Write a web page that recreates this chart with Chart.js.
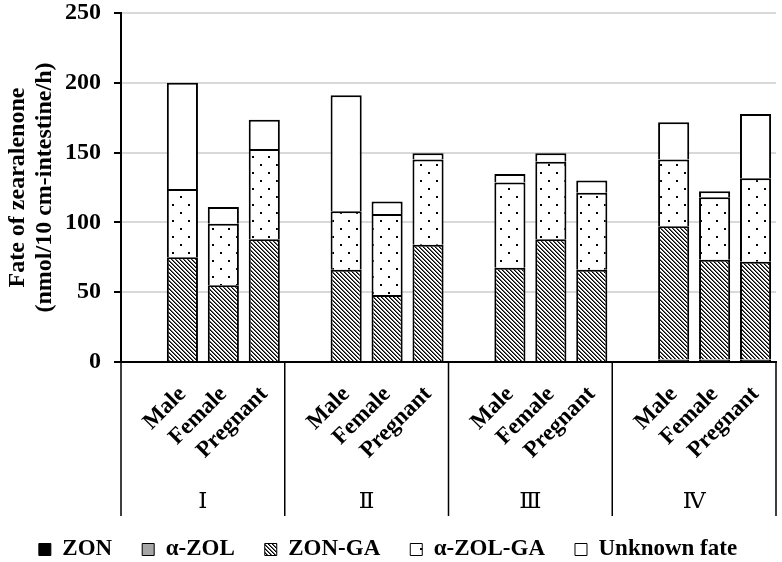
<!DOCTYPE html>
<html>
<head>
<meta charset="utf-8">
<script src="https://cdn.jsdelivr.net/npm/chart.js@4.4.1/dist/chart.umd.min.js"></script>
<style>
  html, body { margin: 0; padding: 0; background: #fff; }
</style>
</head>
<body>
<canvas id="chart" width="782" height="562"></canvas>
<script>
// groups and bars
const groups = ["Ⅰ", "Ⅱ", "Ⅲ", "Ⅳ"];
const sexes = ["Male", "Female", "Pregnant"];
// segment sizes (nmol/10 cm-intestine/h), order: I M/F/P, II M/F/P, III M/F/P, IV M/F/P
const zon     = [0, 0, 0, 0, 0, 0, 0, 0, 0, 1.5, 1.5, 1.5];
const aZol    = [0, 0, 0, 0, 0, 0, 0, 0, 0, 0.3, 0.3, 0.3];
const zonGa   = [75, 55, 88, 66, 48, 84, 67.5, 88, 66, 95.5, 71.5, 70];
const aZolGa  = [49, 44, 64.5, 42, 58, 61, 61, 55.5, 55.3, 47.7, 44.7, 59.8];
const unknown = [76, 12, 21, 83, 9, 4.5, 6.2, 6, 8.7, 26.8, 4.4, 46];
const yTicks = [0, 50, 100, 150, 200, 250];

const SERIF = '"Liberation Serif", "Times New Roman", "DejaVu Serif", "Noto Sans CJK JP", serif';

// each group gets an empty slot on its left, like the original sheet
function slots(vals) {
  const out = [];
  groups.forEach((g, i) => {
    out.push(null);
    out.push(...vals.slice(i * 3, i * 3 + 3));
  });
  return out;
}
const labels = [];
groups.forEach(() => { labels.push(""); labels.push(...sexes); });

function hatchPattern() {
  const c = document.createElement("canvas");
  c.width = 4; c.height = 4;
  const g = c.getContext("2d");
  g.fillStyle = "#fff"; g.fillRect(0, 0, 4, 4);
  for (let i = 0; i < 4; i++) {
    g.fillStyle = "#000"; g.fillRect(i, i, 1, 1);
    g.fillStyle = "#666"; g.fillRect((i + 1) % 4, i, 1, 1);
  }
  return g.createPattern(c, "repeat");
}
function dotPattern() {
  const c = document.createElement("canvas");
  c.width = 16; c.height = 16;
  const g = c.getContext("2d");
  g.fillStyle = "#fff"; g.fillRect(0, 0, 16, 16);
  g.fillStyle = "#000";
  g.fillRect(4, 4, 2, 2);
  g.fillRect(12, 12, 2, 2);
  return g.createPattern(c, "repeat");
}

// vertical lines between the groups, under the plot
const dividers = {
  id: "dividers",
  afterDraw(chart) {
    const x2 = chart.scales.x2;
    const ctx = chart.ctx;
    const w = x2.width / groups.length;
    ctx.save();
    ctx.strokeStyle = "#000";
    ctx.lineWidth = 1.5;
    ctx.beginPath();
    for (let i = 0; i <= groups.length; i++) {
      const px = x2.left + i * w;
      ctx.moveTo(px, chart.chartArea.bottom);
      ctx.lineTo(px, x2.bottom + 8);
    }
    ctx.stroke();
    ctx.restore();
  }
};

const bar = { borderColor: "#000", borderWidth: 2, borderSkipped: "bottom", categoryPercentage: 1, barPercentage: 0.76 };

const ctx = document.getElementById("chart").getContext("2d");
new Chart(ctx, {
  type: "bar",
  data: {
    labels: labels,
    datasets: [
      { label: "ZON", data: slots(zon), backgroundColor: "#000", ...bar },
      { label: "α-ZOL", data: slots(aZol), backgroundColor: "#a6a6a6", ...bar },
      { label: "ZON-GA", data: slots(zonGa), backgroundColor: hatchPattern(), ...bar },
      { label: "α-ZOL-GA", data: slots(aZolGa), backgroundColor: dotPattern(), ...bar },
      { label: "Unknown fate", data: slots(unknown), backgroundColor: "#fff", ...bar }
    ]
  },
  options: {
    responsive: false,
    animation: false,
    devicePixelRatio: 1,
    layout: { padding: { top: 0, right: 6, left: 0, bottom: 0 } },
    plugins: {
      tooltip: { enabled: false },
      legend: {
        position: "bottom",
        maxHeight: 54,
        labels: {
          boxWidth: 12,
          boxHeight: 12,
          padding: 30,
          color: "#000",
          font: { family: SERIF, size: 23, weight: "bold" },
          generateLabels: chart =>
            Chart.defaults.plugins.legend.labels.generateLabels(chart).map(l => ({ ...l, lineWidth: 1, borderSkipped: false }))
        }
      }
    },
    scales: {
      x: {
        stacked: true,
        weight: 0,
        grid: { display: false },
        border: { display: true, color: "#000", width: 2 },
        ticks: {
          autoSkip: false, maxRotation: 45, minRotation: 45, padding: 11,
          color: "#000", font: { family: SERIF, size: 23, weight: "bold" }
        },
        afterFit: s => { s.height = 108; s.paddingRight = 0; s.paddingLeft = 0; }
      },
      x2: {
        type: "category",
        labels: groups,
        position: "bottom",
        weight: 1,
        grid: { display: false },
        border: { display: false },
        ticks: { padding: 10, color: "#000", font: { family: SERIF, size: 23 } },
        afterFit: s => { s.height = 38; s.paddingRight = 0; s.paddingLeft = 0; }
      },
      y: {
        stacked: true,
        min: 0,
        max: 250,
        afterBuildTicks: s => { s.ticks = yTicks.map(v => ({ value: v })); },
        ticks: { padding: 13, color: "#000", font: { family: SERIF, size: 24, weight: "bold" } },
        grid: {
          color: c => (c.tick && c.tick.value === 0 ? "#000" : "#d9d9d9"),
          lineWidth: 2,
          tickColor: "#000",
          tickLength: 7
        },
        border: { color: "#000", width: 2 },
        title: {
          display: true,
          text: ["Fate of zearalenone", "(nmol/10 cm-intestine/h)"],
          color: "#000",
          padding: 4,
          font: { family: SERIF, size: 24, weight: "bold", lineHeight: 1.12 }
        },
        afterFit: s => { s.width = 121; s.paddingTop = 13; }
      }
    }
  },
  plugins: [dividers]
});
</script>
</body>
</html>
